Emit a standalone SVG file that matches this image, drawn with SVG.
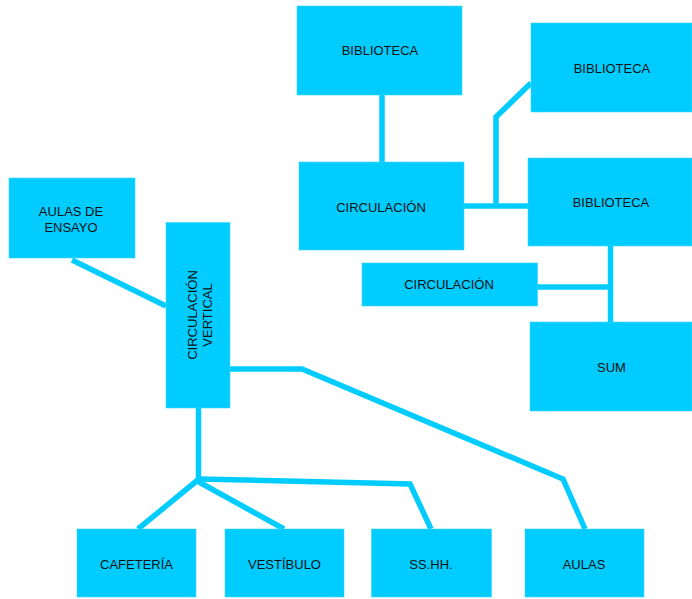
<svg xmlns="http://www.w3.org/2000/svg" width="692" height="599" viewBox="0 0 692 599">
<style>
.box{fill:#00CCFF;stroke:#3FD6FF;stroke-width:0.6}
.lbl{font-family:"Liberation Sans",Arial,sans-serif;font-size:13px;fill:#111;text-anchor:middle}
.con{fill:none;stroke:#00CCFF;stroke-width:5.5;stroke-linejoin:miter;stroke-linecap:butt}
</style>
<rect width="692" height="599" fill="#fff"/>
<g id="connectors">
<line class="con" x1="382" y1="95" x2="382" y2="162"/>
<line class="con" x1="464" y1="206" x2="528" y2="206"/>
<polyline class="con" points="496,206 496,117 531,83"/>
<line class="con" x1="537" y1="287" x2="613" y2="287"/>
<line class="con" x1="610.5" y1="246" x2="610.5" y2="322"/>
<line class="con" x1="72" y1="260" x2="166" y2="306"/>
<polyline class="con" points="230,369 302,369 563,479 585,529"/>
<line class="con" x1="198.5" y1="408" x2="198.5" y2="479"/>
<line class="con" x1="199" y1="479" x2="138" y2="529"/>
<line class="con" x1="199" y1="482" x2="284" y2="529"/>
<polyline class="con" points="198,479 410,484 431,529"/>
</g>
<g id="n-bib1"><rect class="box" x="297" y="6" width="165" height="89"/><text class="lbl" x="380" y="55">BIBLIOTECA</text></g>
<g id="n-bib2"><rect class="box" x="531" y="23" width="161" height="89"/><text class="lbl" x="612" y="72.5">BIBLIOTECA</text></g>
<g id="n-circ1"><rect class="box" x="299" y="162" width="165" height="88"/><text class="lbl" x="381" y="211.5">CIRCULACIÓN</text></g>
<g id="n-bib3"><rect class="box" x="528" y="158" width="164" height="88"/><text class="lbl" x="611" y="207.3">BIBLIOTECA</text></g>
<g id="n-circ2"><rect class="box" x="362" y="263" width="175.5" height="43"/><text class="lbl" x="449" y="289">CIRCULACIÓN</text></g>
<g id="n-sum"><rect class="box" x="530" y="322" width="162" height="89"/><text class="lbl" x="611.5" y="372">SUM</text></g>
<g id="n-ensayo"><rect class="box" x="9" y="178" width="126" height="80"/><text class="lbl" x="71" y="215.5">AULAS DE</text><text class="lbl" x="71" y="231.5">ENSAYO</text></g>
<g id="n-circv"><rect class="box" x="166" y="222.5" width="64" height="185.5"/><text class="lbl" transform="translate(197,315) rotate(-90)">CIRCULACIÓN</text><text class="lbl" transform="translate(212,315) rotate(-90)">VERTICAL</text></g>
<g id="n-cafe"><rect class="box" x="77" y="529" width="119" height="68"/><text class="lbl" x="136.5" y="569">CAFETERÍA</text></g>
<g id="n-vest"><rect class="box" x="225" y="529" width="119" height="68"/><text class="lbl" x="284.5" y="569">VESTÍBULO</text></g>
<g id="n-sshh"><rect class="box" x="371.5" y="529" width="120" height="68"/><text class="lbl" x="431" y="569">SS.HH.</text></g>
<g id="n-aulas"><rect class="box" x="525" y="529" width="119" height="68"/><text class="lbl" x="584" y="569">AULAS</text></g>
</svg>
